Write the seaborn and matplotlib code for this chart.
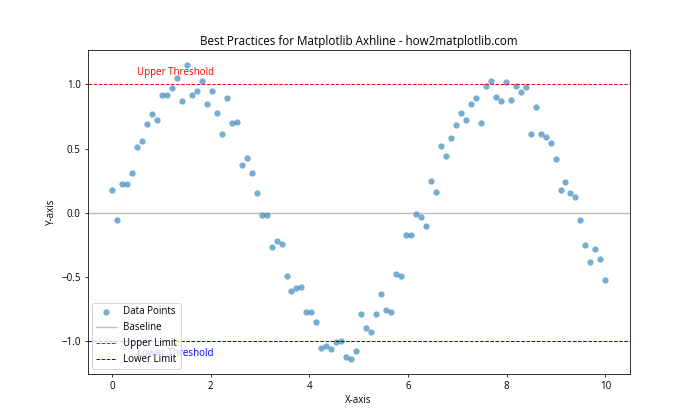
import matplotlib
matplotlib.use("Agg")
import matplotlib.pyplot as plt
import seaborn as sns
import numpy as np
import pandas as pd

plt.rcParams["font.family"] = ["Open Sans", "DejaVu Sans"]

# x positions: 100 evenly spaced samples from 0 to 10
x_start, x_stop, n_points = 0, 10, 100
# y values
y_values = [
    0.18, -0.06, 0.22, 0.22, 0.31, 0.51, 0.56, 0.69, 0.77, 0.72,
    0.92, 0.92, 0.97, 1.05, 0.87, 1.15, 0.92, 0.95, 1.03, 0.85,
    0.95, 0.78, 0.61, 0.89, 0.70, 0.71, 0.37, 0.43, 0.31, 0.15,
    -0.02, -0.02, -0.27, -0.22, -0.24, -0.49, -0.61, -0.59, -0.58, -0.77,
    -0.77, -0.85, -1.05, -1.04, -1.06, -1.01, -1.00, -1.12, -1.14, -1.08,
    -0.79, -0.90, -0.93, -0.79, -0.63, -0.76, -0.77, -0.48, -0.49, -0.17,
    -0.17, -0.01, -0.03, -0.10, 0.25, 0.16, 0.52, 0.44, 0.58, 0.68,
    0.78, 0.72, 0.85, 0.89, 0.70, 0.99, 1.03, 0.90, 0.87, 1.02,
    0.88, 0.99, 0.94, 0.98, 0.61, 0.82, 0.61, 0.59, 0.54, 0.42,
    0.18, 0.24, 0.15, 0.12, -0.06, -0.25, -0.38, -0.28, -0.36, -0.52,
]
baseline = 0
upper_limit = 1
lower_limit = -1

df = pd.DataFrame({"x": np.linspace(x_start, x_stop, n_points), "y": y_values})

fig, ax = plt.subplots(figsize=(10, 6), dpi=70)

sns.scatterplot(data=df, x="x", y="y", ax=ax, alpha=0.6, s=42,
                linewidth=0, label="Data Points")
ax.axhline(y=baseline, color="gray", linestyle="-", alpha=0.5, label="Baseline")
ax.axhline(y=upper_limit, color="red", linestyle="--", linewidth=1, label="Upper Limit")
ax.axhline(y=lower_limit, color="blue", linestyle="--", linewidth=1, label="Lower Limit")

ax.text(0.5, 1.05, "Upper Threshold", color="red", va="bottom")
ax.text(0.5, -1.05, "Lower Threshold", color="blue", va="top")

ax.set_title("Best Practices for Matplotlib Axhline - how2matplotlib.com")
ax.set_xlabel("X-axis")
ax.set_ylabel("Y-axis")
ax.legend(loc="lower left")

fig.savefig("out.png")
